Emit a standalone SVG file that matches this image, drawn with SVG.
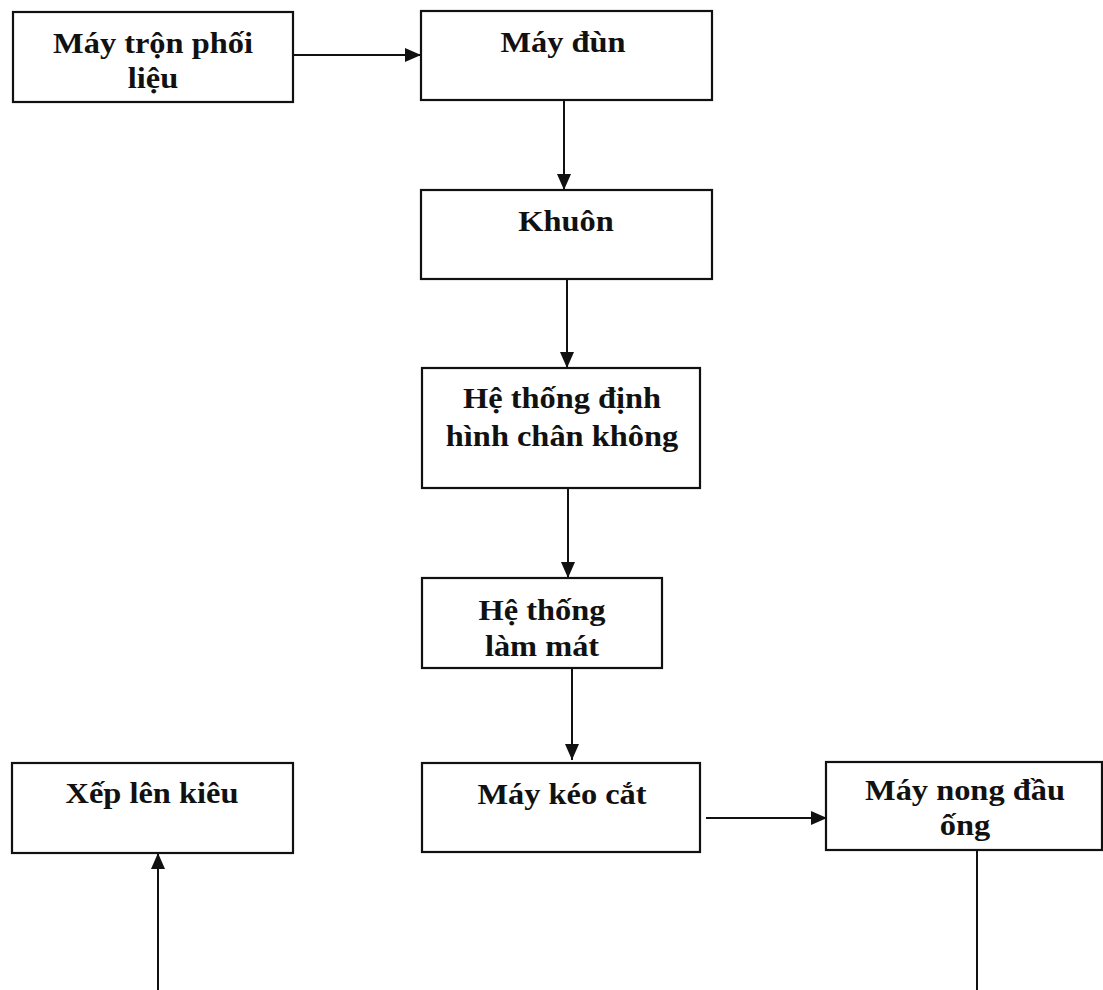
<svg xmlns="http://www.w3.org/2000/svg" width="1103" height="990" viewBox="0 0 1103 990">
  <style>
    .box { fill: #ffffff; stroke: #111111; stroke-width: 2.2; }
    .lbl { font-family: "Liberation Serif", "Times New Roman", serif; font-weight: bold; font-size: 30px; fill: #111111; text-anchor: middle; }
    .edge { fill: none; stroke: #111111; stroke-width: 2; }
  </style>
  <defs>
    <marker id="arrow" markerWidth="16" markerHeight="14" refX="16" refY="7" orient="auto" markerUnits="userSpaceOnUse">
      <path d="M0,0 L16,7 L0,14 Z" fill="#111111"/>
    </marker>
  </defs>
  <rect width="1103" height="990" fill="#ffffff"/>

  <g id="edges">
    <line class="edge" x1="293" y1="55" x2="421" y2="55" marker-end="url(#arrow)"/>
    <line class="edge" x1="564" y1="100" x2="564" y2="190" marker-end="url(#arrow)"/>
    <line class="edge" x1="567" y1="279" x2="567" y2="368" marker-end="url(#arrow)"/>
    <line class="edge" x1="568" y1="488" x2="568" y2="578" marker-end="url(#arrow)"/>
    <line class="edge" x1="572" y1="668" x2="572" y2="760" marker-end="url(#arrow)"/>
    <line class="edge" x1="706" y1="818" x2="827" y2="818" marker-end="url(#arrow)"/>
    <line class="edge" x1="977" y1="850" x2="977" y2="990" stroke-width="1.6"/>
    <line class="edge" x1="158" y1="990" x2="158" y2="853" marker-end="url(#arrow)"/>
  </g>

  <!-- labels are drawn at x=0 inside a translated, slightly widened frame -->
  <g id="n-tron">
    <rect class="box" x="13" y="12" width="280" height="90"/>
    <g transform="translate(153 0) scale(1.08 1)">
      <text class="lbl" x="0" y="53">Máy trộn phối</text>
      <text class="lbl" x="0" y="88">liệu</text>
    </g>
  </g>
  <g id="n-dun">
    <rect class="box" x="421" y="11" width="291" height="89"/>
    <g transform="translate(563 0) scale(1.08 1)">
      <text class="lbl" x="0" y="52">Máy đùn</text>
    </g>
  </g>
  <g id="n-khuon">
    <rect class="box" x="421" y="190" width="291" height="89"/>
    <g transform="translate(566 0) scale(1.08 1)">
      <text class="lbl" x="0" y="231">Khuôn</text>
    </g>
  </g>
  <g id="n-dinhhinh">
    <rect class="box" x="422" y="368" width="278" height="120"/>
    <g transform="translate(562 0) scale(1.08 1)">
      <text class="lbl" x="0" y="408">Hệ thống định</text>
      <text class="lbl" x="0" y="446">hình chân không</text>
    </g>
  </g>
  <g id="n-lammat">
    <rect class="box" x="422" y="578" width="240" height="90"/>
    <g transform="translate(542 0) scale(1.08 1)">
      <text class="lbl" x="0" y="620">Hệ thống</text>
      <text class="lbl" x="0" y="656">làm mát</text>
    </g>
  </g>
  <g id="n-keocat">
    <rect class="box" x="422" y="763" width="278" height="89"/>
    <g transform="translate(562 0) scale(1.08 1)">
      <text class="lbl" x="0" y="804">Máy kéo cắt</text>
    </g>
  </g>
  <g id="n-nong">
    <rect class="box" x="826" y="762" width="276" height="88"/>
    <g transform="translate(965 0) scale(1.08 1)">
      <text class="lbl" x="0" y="800">Máy nong đầu</text>
      <text class="lbl" x="0" y="835">ống</text>
    </g>
  </g>
  <g id="n-xep">
    <rect class="box" x="12" y="763" width="281" height="90"/>
    <g transform="translate(152 0) scale(1.08 1)">
      <text class="lbl" x="0" y="803">Xếp lên kiêu</text>
    </g>
  </g>
</svg>
